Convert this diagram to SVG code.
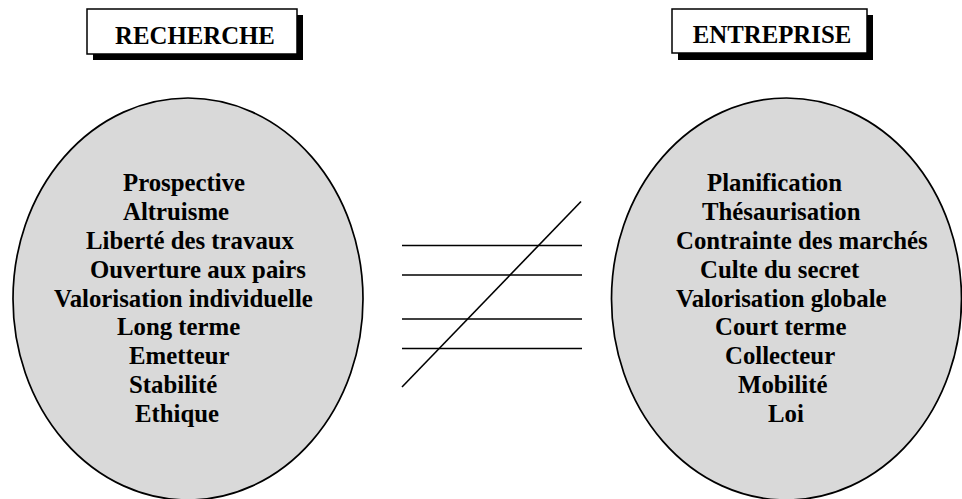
<svg xmlns="http://www.w3.org/2000/svg" width="962" height="499" viewBox="0 0 962 499">
<style>
  .t { font-family: "Liberation Serif", "Times New Roman", serif; font-weight: bold; font-size: 24.8px; fill: #000; }
  .ell { fill: #d9d9d9; stroke: #000; stroke-width: 1.7; }
  .box { fill: #fff; stroke: #000; stroke-width: 1.5; }
  .shadow { fill: #000; }
  .ln { stroke: #000; stroke-width: 1.6; fill: none; }
</style>
<rect width="962" height="499" fill="#fff"/>
<g id="recherche-title">
  <rect class="shadow" x="93" y="15" width="210" height="45"/>
  <rect class="box" x="87" y="9" width="210" height="45"/>
  <text class="t" x="195" y="44" text-anchor="middle">RECHERCHE</text>
</g>
<g id="entreprise-title">
  <rect class="shadow" x="678" y="15" width="195" height="45"/>
  <rect class="box" x="672" y="9" width="195" height="44"/>
  <text class="t" x="772" y="43" text-anchor="middle">ENTREPRISE</text>
</g>
<g id="recherche">
  <ellipse class="ell" cx="188" cy="299" rx="175" ry="201"/>
  <text class="t" x="123" y="191">Prospective</text>
  <text class="t" x="123" y="220">Altruisme</text>
  <text class="t" x="86" y="249">Liberté des travaux</text>
  <text class="t" x="90" y="278">Ouverture aux pairs</text>
  <text class="t" x="54" y="307">Valorisation individuelle</text>
  <text class="t" x="117" y="335">Long terme</text>
  <text class="t" x="129" y="364">Emetteur</text>
  <text class="t" x="129" y="393">Stabilité</text>
  <text class="t" x="135" y="422">Ethique</text>
</g>
<g id="entreprise">
  <ellipse class="ell" cx="786.5" cy="299" rx="175" ry="201"/>
  <text class="t" x="707" y="191">Planification</text>
  <text class="t" x="702" y="220">Thésaurisation</text>
  <text class="t" x="676" y="249">Contrainte des marchés</text>
  <text class="t" x="700" y="278">Culte du secret</text>
  <text class="t" x="676" y="307">Valorisation globale</text>
  <text class="t" x="715" y="335">Court terme</text>
  <text class="t" x="725" y="364">Collecteur</text>
  <text class="t" x="738" y="393">Mobilité</text>
  <text class="t" x="768" y="422">Loi</text>
</g>
<g id="connectors">
  <line class="ln" x1="402" y1="245.5" x2="582" y2="245.5"/>
  <line class="ln" x1="402" y1="275" x2="582" y2="275"/>
  <line class="ln" x1="402" y1="319" x2="582" y2="319"/>
  <line class="ln" x1="402" y1="348.5" x2="582" y2="348.5"/>
  <line class="ln" x1="581" y1="201.5" x2="402" y2="387"/>
</g>
</svg>
